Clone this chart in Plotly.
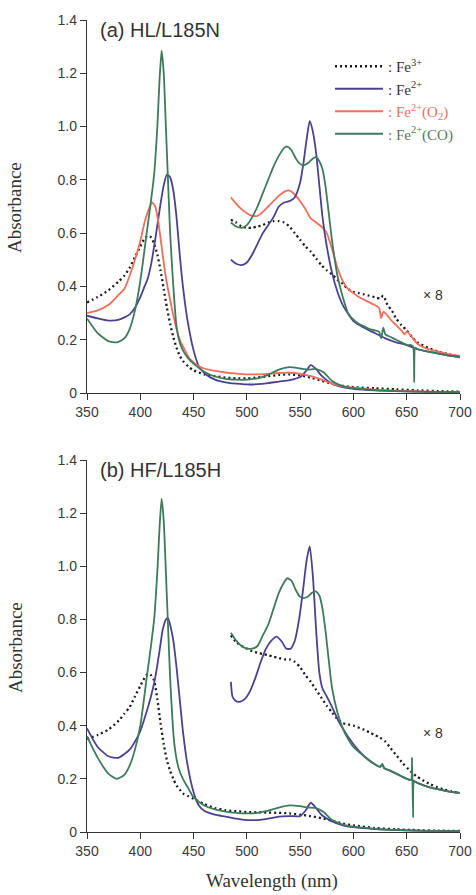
import plotly.graph_objects as go

W, H = 476, 895

# ---------------- (a) HL/L185N : full spectra ----------------
a_fe3_wl = [350, 360, 370, 380, 385, 390, 395, 400, 404, 407, 410, 413, 416, 419, 422, 425, 428, 431, 434, 437,
            440, 445, 450, 460, 470, 480, 490, 500, 510, 520, 530, 540, 550, 560, 570, 580, 590, 600, 620, 640,
            660, 680, 700]
a_fe3 = [0.34, 0.36, 0.385, 0.42, 0.44, 0.47, 0.51, 0.55, 0.58, 0.59, 0.585, 0.56, 0.52, 0.46, 0.39, 0.32, 0.26,
         0.21, 0.17, 0.14, 0.12, 0.10, 0.085, 0.07, 0.063, 0.058, 0.055, 0.055, 0.058, 0.063, 0.068, 0.07, 0.066,
         0.058, 0.046, 0.035, 0.027, 0.022, 0.018, 0.014, 0.01, 0.007, 0.005]

a_fe2_wl = [350, 360, 370, 380, 390, 395, 400, 404, 407, 410, 413, 416, 419, 422, 425, 428, 431, 434, 437, 440,
            444, 450, 455, 460, 470, 480, 490, 500, 510, 520, 530, 540, 550, 555, 560, 565, 570, 580, 590, 600,
            620, 640, 660, 680, 700]
a_fe2 = [0.29, 0.28, 0.272, 0.275, 0.295, 0.32, 0.36, 0.40, 0.43, 0.48, 0.55, 0.63, 0.71, 0.78, 0.82, 0.81, 0.76,
         0.66, 0.52, 0.40, 0.28, 0.16, 0.10, 0.075, 0.05, 0.04, 0.035, 0.032, 0.033, 0.037, 0.043, 0.048, 0.06,
         0.08, 0.105, 0.09, 0.065, 0.035, 0.022, 0.016, 0.01, 0.007, 0.005, 0.004, 0.003]

a_o2_wl = [350, 360, 370, 380, 385, 390, 395, 400, 404, 408, 411, 414, 417, 420, 423, 426, 430, 434, 438, 442,
           446, 450, 455, 460, 470, 480, 490, 500, 510, 520, 530, 540, 550, 560, 570, 580, 590, 600, 620, 640,
           660, 680, 700]
a_o2 = [0.30, 0.31, 0.33, 0.37, 0.39, 0.44, 0.50, 0.57, 0.64, 0.69, 0.715, 0.70, 0.64, 0.55, 0.46, 0.39, 0.31,
        0.24, 0.19, 0.16, 0.13, 0.115, 0.10, 0.092, 0.083, 0.077, 0.073, 0.07, 0.07, 0.072, 0.075, 0.076, 0.072,
        0.063, 0.05, 0.035, 0.025, 0.02, 0.013, 0.009, 0.006, 0.004, 0.003]

a_co_wl = [350, 360, 370, 378, 385, 390, 395, 400, 406, 410, 413, 416, 418, 420, 422, 424, 426, 428, 431, 434,
           437, 440, 445, 450, 460, 470, 480, 490, 500, 510, 520, 530, 540, 550, 557, 565, 572, 580, 590, 600,
           620, 640, 660, 680, 700]
a_co = [0.28, 0.225, 0.195, 0.19, 0.205, 0.24, 0.31, 0.42, 0.60, 0.72, 0.82, 1.00, 1.17, 1.285, 1.20, 1.00, 0.80,
        0.60, 0.40, 0.25, 0.19, 0.16, 0.13, 0.11, 0.08, 0.062, 0.053, 0.05, 0.05, 0.055, 0.068, 0.088, 0.097,
        0.092, 0.088, 0.09, 0.078, 0.045, 0.026, 0.018, 0.011, 0.007, 0.005, 0.004, 0.003]

# (a) visible region, expanded x8
a8_fe3_wl = [485, 490, 495, 500, 505, 510, 515, 520, 525, 530, 535, 540, 545, 550, 555, 560, 565, 570, 575, 580,
             585, 590, 595, 600, 605, 610, 615, 620, 625, 628, 632, 636, 640, 645, 650, 655, 660, 670, 680, 690, 700]
a8_fe3 = [0.65, 0.64, 0.625, 0.62, 0.62, 0.625, 0.63, 0.64, 0.645, 0.645, 0.64, 0.625, 0.60, 0.575, 0.55, 0.53,
          0.505, 0.48, 0.46, 0.445, 0.425, 0.41, 0.39, 0.38, 0.375, 0.37, 0.365, 0.36, 0.355, 0.365, 0.33, 0.31,
          0.28, 0.255, 0.235, 0.21, 0.19, 0.17, 0.155, 0.145, 0.135]

a8_fe2_wl = [485, 490, 495, 500, 505, 510, 515, 520, 525, 530, 535, 540, 545, 550, 553, 556, 559, 562, 565, 568,
             571, 575, 580, 585, 590, 600, 610, 620, 630, 640, 650, 660, 670, 680, 690, 700]
a8_fe2 = [0.50, 0.485, 0.48, 0.49, 0.52, 0.56, 0.60, 0.63, 0.66, 0.70, 0.715, 0.72, 0.735, 0.79, 0.86, 0.95, 1.02,
          0.98, 0.90, 0.78, 0.66, 0.55, 0.45, 0.38, 0.33, 0.27, 0.245, 0.225, 0.205, 0.19, 0.18, 0.165, 0.155,
          0.148, 0.14, 0.135]

a8_o2_wl = [485, 490, 495, 500, 505, 510, 515, 520, 525, 530, 535, 540, 545, 550, 555, 560, 565, 570, 575, 580,
            585, 590, 595, 600, 605, 610, 615, 620, 624, 626, 628, 630, 635, 640, 645, 648, 650, 655, 660, 670,
            680, 690, 700]
a8_o2 = [0.735, 0.71, 0.69, 0.675, 0.665, 0.665, 0.68, 0.70, 0.72, 0.74, 0.755, 0.76, 0.745, 0.72, 0.69, 0.655,
         0.64, 0.625, 0.60, 0.54, 0.47, 0.42, 0.39, 0.375, 0.36, 0.35, 0.34, 0.33, 0.32, 0.28, 0.305, 0.30, 0.275,
         0.255, 0.235, 0.22, 0.23, 0.21, 0.185, 0.165, 0.155, 0.145, 0.14]

a8_co_wl = [485, 490, 495, 500, 505, 510, 515, 520, 525, 530, 535, 538, 542, 546, 550, 554, 558, 562, 565, 568,
            571, 574, 577, 580, 585, 590, 595, 600, 605, 610, 615, 620, 624, 626, 628, 630, 635, 640, 645, 650,
            654, 656, 657, 658, 660, 670, 680, 690, 700]
a8_co = [0.64, 0.625, 0.62, 0.63, 0.66, 0.70, 0.75, 0.80, 0.85, 0.89, 0.92, 0.925, 0.91, 0.88, 0.86, 0.855, 0.865,
         0.88, 0.885, 0.87, 0.84, 0.77, 0.67, 0.57, 0.44, 0.36, 0.30, 0.275, 0.26, 0.25, 0.24, 0.235, 0.23, 0.205,
         0.245, 0.22, 0.21, 0.20, 0.19, 0.18, 0.18, 0.175, 0.04, 0.17, 0.165, 0.155, 0.148, 0.14, 0.135]

# ---------------- (b) HF/L185H : full spectra ----------------
b_fe3_wl = a_fe3_wl
b_fe3 = [0.35, 0.365, 0.385, 0.42, 0.445, 0.47, 0.51, 0.55, 0.58, 0.595, 0.59, 0.57, 0.50, 0.41, 0.33, 0.27, 0.23,
         0.20, 0.175, 0.16, 0.145, 0.135, 0.125, 0.105, 0.09, 0.082, 0.078, 0.075, 0.074, 0.073, 0.072, 0.07,
         0.065, 0.06, 0.052, 0.042, 0.032, 0.025, 0.015, 0.01, 0.007, 0.005, 0.004]

b_fe2_wl = [350, 360, 370, 375, 380, 390, 395, 400, 405, 410, 414, 418, 421, 424, 426, 428, 431, 434, 437, 440,
            444, 450, 455, 460, 470, 480, 490, 500, 510, 520, 530, 540, 550, 555, 560, 565, 570, 580, 590, 600,
            620, 640, 660, 680, 700]
b_fe2 = [0.39, 0.32, 0.285, 0.28, 0.28, 0.31, 0.34, 0.38, 0.44, 0.51, 0.58, 0.68, 0.76, 0.80, 0.805, 0.78, 0.72,
         0.62, 0.50, 0.38, 0.26, 0.15, 0.10, 0.08, 0.065, 0.058, 0.05, 0.045, 0.045, 0.05, 0.058, 0.06, 0.06, 0.08,
         0.11, 0.09, 0.065, 0.04, 0.025, 0.018, 0.011, 0.007, 0.005, 0.004, 0.003]

b_co_wl = [350, 360, 370, 378, 385, 390, 395, 400, 406, 410, 413, 416, 418, 420, 422, 424, 426, 428, 432, 436,
           440, 445, 450, 460, 470, 480, 490, 500, 510, 520, 530, 540, 550, 557, 565, 572, 580, 590, 600, 620,
           640, 660, 680, 700]
b_co = [0.36, 0.28, 0.22, 0.20, 0.215, 0.25, 0.31, 0.40, 0.58, 0.70, 0.80, 0.98, 1.14, 1.255, 1.17, 0.98, 0.78,
        0.58, 0.33, 0.24, 0.20, 0.165, 0.13, 0.10, 0.085, 0.077, 0.072, 0.07, 0.072, 0.08, 0.092, 0.10, 0.097,
        0.092, 0.09, 0.075, 0.045, 0.028, 0.02, 0.012, 0.008, 0.005, 0.004, 0.003]

# (b) visible region, expanded x8
b8_fe3_wl = [485, 490, 495, 500, 505, 510, 515, 520, 525, 530, 535, 540, 545, 550, 555, 560, 565, 570, 575, 580,
             585, 590, 595, 600, 610, 615, 620, 625, 630, 634, 640, 646, 652, 659, 665, 672, 678, 685, 692, 700]
b8_fe3 = [0.74, 0.715, 0.70, 0.69, 0.68, 0.675, 0.67, 0.665, 0.66, 0.655, 0.65, 0.65, 0.64, 0.62, 0.59, 0.565,
          0.535, 0.505, 0.475, 0.45, 0.425, 0.41, 0.405, 0.40, 0.385, 0.375, 0.365, 0.355, 0.34, 0.32, 0.29, 0.26,
          0.235, 0.21, 0.195, 0.18, 0.17, 0.16, 0.153, 0.147]

b8_fe2_wl = [485, 486.5, 489, 493, 498, 503, 508, 513, 518, 523, 528, 533, 537, 541, 545, 549, 553, 556, 559, 562,
             565, 568, 571, 575, 580, 587, 600, 610, 620, 625, 627, 629, 635, 640, 645, 650, 655, 660, 670, 680,
             690, 700]
b8_fe2 = [0.565, 0.51, 0.495, 0.49, 0.50, 0.53, 0.58, 0.64, 0.69, 0.72, 0.735, 0.715, 0.69, 0.69, 0.72, 0.80,
          0.92, 1.02, 1.075, 0.96, 0.76, 0.60, 0.54, 0.51, 0.47, 0.41, 0.33, 0.285, 0.255, 0.245, 0.255, 0.24,
          0.23, 0.22, 0.21, 0.20, 0.195, 0.185, 0.17, 0.16, 0.152, 0.147]

b8_co_wl = [485, 490, 495, 500, 505, 510, 515, 520, 525, 530, 535, 538, 542, 546, 550, 553, 557, 561, 565, 568,
            571, 574, 577, 580, 585, 590, 595, 600, 610, 620, 625, 627, 629, 635, 640, 645, 650, 654, 655, 656,
            657, 660, 670, 680, 690, 700]
b8_co = [0.75, 0.72, 0.70, 0.69, 0.69, 0.70, 0.74, 0.78, 0.84, 0.90, 0.94, 0.955, 0.945, 0.91, 0.885, 0.88, 0.885,
         0.90, 0.905, 0.89, 0.84, 0.75, 0.64, 0.54, 0.45, 0.39, 0.35, 0.32, 0.285, 0.255, 0.245, 0.255, 0.24,
         0.23, 0.22, 0.21, 0.20, 0.195, 0.28, 0.055, 0.19, 0.185, 0.17, 0.16, 0.152, 0.147]

# axis ticks
x_ticks = [350, 400, 450, 500, 550, 600, 650, 700]
y_ticks = [0, 0.2, 0.4, 0.6, 0.8, 1.0, 1.2, 1.4]
y_tick_text = ["0", "0.2", "0.4", "0.6", "0.8", "1.0", "1.2", "1.4"]

# ---------------- styling ----------------
C_FE3 = "#1c1c1c"
C_FE2 = "#4a4290"
C_O2 = "#ef6e5c"
C_CO = "#3f7a5b"
AXIS = "#333333"
SANS = "Liberation Sans, Arial, sans-serif"
SERIF = "Liberation Serif, Times New Roman, serif"

names = {
    "fe3": ": Fe<sup>3+</sup>",
    "fe2": ": Fe<sup>2+</sup>",
    "o2": "<span style='color:#e8715f'>: Fe<sup>2+</sup>(O<sub>2</sub>)</span>",
    "co": "<span style='color:#4f7a62'>: Fe<sup>2+</sup>(CO)</span>",
}
styles = {
    "fe3": dict(color=C_FE3, width=2.3, dash="2px,3px"),
    "fe2": dict(color=C_FE2, width=1.8),
    "o2": dict(color=C_O2, width=1.8),
    "co": dict(color=C_CO, width=1.8),
}

fig = go.Figure()


def add(wl, vals, key, xa, ya, legend=False):
    fig.add_trace(go.Scatter(
        x=wl, y=vals, mode="lines", name=names[key], legendgroup=key,
        showlegend=legend, xaxis=xa, yaxis=ya,
        line=dict(shape="spline", smoothing=0.6, **styles[key]),
        hoverinfo="x+y",
    ))


# panel (a)
add(a_fe3_wl, a_fe3, "fe3", "x", "y", legend=True)
add(a_fe2_wl, a_fe2, "fe2", "x", "y", legend=True)
add(a_o2_wl, a_o2, "o2", "x", "y", legend=True)
add(a_co_wl, a_co, "co", "x", "y", legend=True)
add(a8_fe3_wl, a8_fe3, "fe3", "x", "y")
add(a8_o2_wl, a8_o2, "o2", "x", "y")
add(a8_fe2_wl, a8_fe2, "fe2", "x", "y")
add(a8_co_wl, a8_co, "co", "x", "y")

# panel (b)
add(b_fe3_wl, b_fe3, "fe3", "x2", "y2")
add(b_fe2_wl, b_fe2, "fe2", "x2", "y2")
add(b_co_wl, b_co, "co", "x2", "y2")
add(b8_fe3_wl, b8_fe3, "fe3", "x2", "y2")
add(b8_fe2_wl, b8_fe2, "fe2", "x2", "y2")
add(b8_co_wl, b8_co, "co", "x2", "y2")


def px_x(p):
    return p / W


def px_y(p):
    return 1 - p / H


x_dom = [px_x(87), px_x(460)]
common_x = dict(range=[350, 700], tickvals=x_ticks, showline=True, linecolor=AXIS, linewidth=1.4,
                ticks="outside", ticklen=6, tickwidth=1.4, tickcolor=AXIS, showgrid=False, zeroline=False,
                tickfont=dict(family=SANS, size=14, color="#3a3a3a"), automargin=False, domain=x_dom)
common_y = dict(range=[0, 1.4], tickvals=y_ticks, ticktext=y_tick_text, showline=True, linecolor=AXIS,
                linewidth=1.4, ticks="outside", ticklen=6, tickwidth=1.4, tickcolor=AXIS, showgrid=False,
                zeroline=False, tickfont=dict(family=SANS, size=14, color="#3a3a3a"), automargin=False)

fig.update_layout(
    width=W, height=H, margin=dict(l=0, r=0, t=0, b=0),
    paper_bgcolor="white", plot_bgcolor="white",
    xaxis=dict(**common_x, anchor="y"),
    yaxis=dict(**common_y, domain=[px_y(393), px_y(20)], anchor="x"),
    xaxis2=dict(**common_x, anchor="y2"),
    yaxis2=dict(**common_y, domain=[px_y(832), px_y(460)], anchor="x2"),
    legend=dict(x=px_x(330), y=px_y(50), xanchor="left", yanchor="top", bgcolor="rgba(0,0,0,0)",
                font=dict(family=SERIF, size=15, color="#333333"), itemwidth=48, tracegroupgap=0,
                traceorder="normal"),
    showlegend=True,
)

ann = []
ann.append(dict(text="(a) HL/L185N", x=px_x(98), y=px_y(30), xref="paper", yref="paper",
                xanchor="left", yanchor="middle", showarrow=False,
                font=dict(family=SANS, size=20, color="#333333")))
ann.append(dict(text="(b) HF/L185H", x=px_x(98), y=px_y(470), xref="paper", yref="paper",
                xanchor="left", yanchor="middle", showarrow=False,
                font=dict(family=SANS, size=20, color="#333333")))
for yc in (295, 733):
    ann.append(dict(text="× 8", x=px_x(433), y=px_y(yc), xref="paper", yref="paper",
                    xanchor="center", yanchor="middle", showarrow=False,
                    font=dict(family=SANS, size=14, color="#333333")))
for yc in (208, 648):
    ann.append(dict(text="Absorbance", x=px_x(15), y=px_y(yc), xref="paper", yref="paper",
                    xanchor="center", yanchor="middle", textangle=-90, showarrow=False,
                    font=dict(family=SERIF, size=19, color="#333333")))
ann.append(dict(text="Wavelength (nm)", x=px_x(272), y=px_y(881), xref="paper", yref="paper",
                xanchor="center", yanchor="middle", showarrow=False,
                font=dict(family=SERIF, size=19, color="#333333")))
fig.update_layout(annotations=ann)

fig.write_html("out.html")
